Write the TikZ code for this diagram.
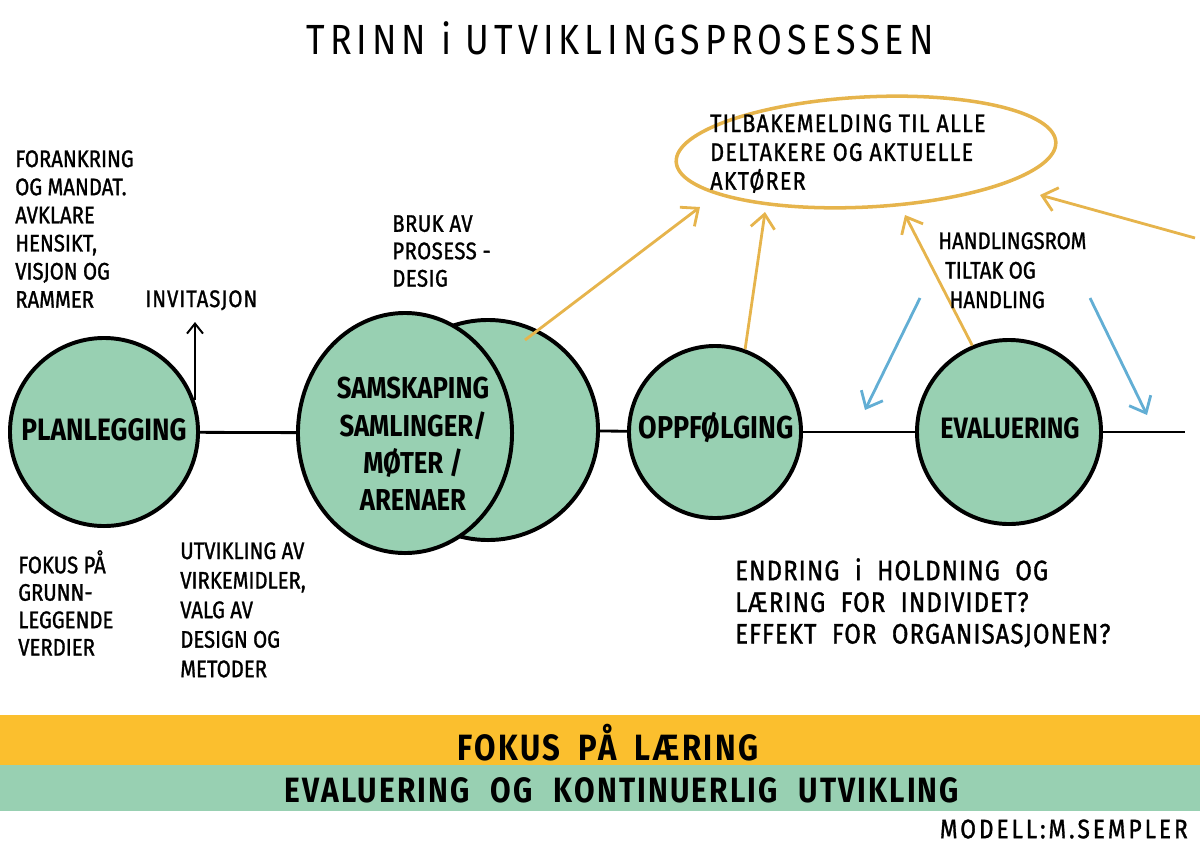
\documentclass[tikz,border=0pt]{standalone}
\usepackage{fontspec}
\setmainfont{Fira Sans}[FakeStretch=0.85]
\newfontfamily\marker{Fira Sans}[FakeStretch=0.85, FakeBold=1.2]
\newcommand\widewords[1]{\spaceskip=#1\relax}
\usetikzlibrary{arrows.meta,shapes.geometric}
\definecolor{mint}{RGB}{152,208,178}
\definecolor{gold}{RGB}{230,180,76}
\definecolor{bandgold}{RGB}{251,191,46}
\definecolor{sky}{RGB}{98,174,212}
\tikzset{
  stage/.style={circle, draw=black, line width=2.8pt, fill=mint, inner sep=0},
  stagetext/.style={font=\bfseries\fontsize{21}{24}\selectfont, align=center},
  txt/.style={inner sep=0, align=left, anchor=north west, font=\marker\fontsize{17}{20}\selectfont},
  axis/.style={line width=2pt, black},
  feedback/.style={gold, line width=2pt, -{Straight Barb[length=3.5mm,width=6mm,line width=2pt]}},
  action/.style={sky, line width=2pt, -{Straight Barb[length=3.5mm,width=6mm,line width=2pt]}},
  invite/.style={black, line width=1.4pt, -{Straight Barb[length=2.5mm,width=4mm,line width=1.4pt]}},
}
\begin{document}
\begin{tikzpicture}[x=0.025cm,y=-0.025cm]
\useasboundingbox (0,0) rectangle (1200,848);
% title
\node[font=\fontsize{30}{36}\selectfont\addfontfeature{LetterSpace=12}] (title) at (620,38) {TRINN i UTVIKLINGSPROSESSEN};
% stages
\node[stage, minimum size=4.7cm] (plan) at (104,432) {};
\node[stagetext, font=\bfseries\fontsize{22}{24}\selectfont] (planl) at (104,430) {PLANLEGGING};
\node[stage, minimum size=5.5cm] (back) at (488,430) {};
\node[stage, ellipse, minimum width=5.35cm, minimum height=6cm] (front) at (405,433) {};
\node[stagetext, font=\bfseries\fontsize{21.5}{26.5}\selectfont] (frontl) at (413,444) {SAMSKAPING\\SAMLINGER/\\MØTER /\\ARENAER};
\node[stage, minimum size=4.3cm] (opp) at (715,432) {};
\node[stagetext, font=\bfseries\fontsize{22.5}{24}\selectfont] (oppl) at (716,428) {OPPFØLGING};
\node[stage, minimum size=4.6cm] (eval) at (1009,432) {};
\node[stagetext] (evall) at (1010,428) {EVALUERING};
\coordinate (axend) at (1185,432);
\draw[axis] (plan) -- (front);
\draw[axis] (back) -- (opp);
\draw[axis] (opp) -- (eval);
\draw[axis] (eval) -- (axend);
% invitation
\coordinate (invfoot) at (195,400);
\coordinate (invtop) at (195,322);
\draw[invite] (invfoot) -- (invtop);
\node[txt, font=\marker\fontsize{17}{20}\selectfont\addfontfeature{LetterSpace=4}] (inv) at (145,290) {INVITASJON};
% feedback ellipse
\node[ellipse, draw=gold, line width=2.5pt, minimum width=9.5cm, minimum height=2.75cm, rotate=3] (fb) at (866,152) {};
\node[txt, font=\marker\fontsize{18}{20.5}\selectfont\addfontfeature{LetterSpace=5}] (fbl) at (710,114) {TILBAKEMELDING TIL ALLE\\DELTAKERE OG AKTUELLE\\AKTØRER};
\coordinate (f1) at (700,207);
\coordinate (f2) at (765,212);
\coordinate (f3) at (905,215);
\coordinate (f4) at (1040,195);
\coordinate (s1) at (525,340);
\coordinate (s4) at (1195,238);
\draw[feedback] (s1) -- (f1);
\draw[feedback] (opp.70) -- (f2);
\draw[feedback] (eval.113) -- (f3);
\draw[feedback] (s4) -- (f4);
% action arrows
\coordinate (a1s) at (920,298);
\coordinate (a1e) at (865,410);
\coordinate (a2s) at (1090,298);
\coordinate (a2e) at (1147,415);
\draw[action] (a1s) -- (a1e);
\draw[action] (a2s) -- (a2e);
% texts
\node[txt] (t1) at (15,150) {FORANKRING\\OG MANDAT.\\AVKLARE\\HENSIKT,\\VISJON OG\\RAMMER};
\node[txt, font=\marker\fontsize{17}{19.5}\selectfont\addfontfeature{LetterSpace=2}] (t2) at (392,215) {BRUK AV\\PROSESS -\\DESIG};
\node[txt, font=\marker\fontsize{17}{21}\selectfont] (t3) at (938,232) {HANDLINGSROM\\\hspace{5pt}TILTAK OG\\\hspace{8pt}HANDLING};
\node[txt, font=\marker\fontsize{17}{19.5}\selectfont] (t4) at (18,550) {FOKUS PÅ\\GRUNN-\\LEGGENDE\\VERDIER};
\node[txt, font=\marker\fontsize{17}{21}\selectfont] (t5) at (180,542) {UTVIKLING AV\\VIRKEMIDLER,\\VALG AV\\DESIGN OG\\METODER};
\node[txt, font=\marker\fontsize{20}{22.5}\selectfont\addfontfeature{LetterSpace=4}\widewords{11pt}] (t6) at (735,558) {ENDRING i HOLDNING OG\\LÆRING FOR INDIVIDET?\\EFFEKT FOR ORGANISASJONEN?};
% bands
\fill[bandgold] (0,715) rectangle (1200,765);
\fill[mint] (0,765) rectangle (1200,811);
\node[font=\bfseries\fontsize{26}{28}\selectfont\addfontfeature{LetterSpace=7}\widewords{13pt}] (b1) at (608,743) {FOKUS PÅ LÆRING};
\node[font=\bfseries\fontsize{25}{28}\selectfont\addfontfeature{LetterSpace=6}\widewords{15pt}] (b2) at (622,790) {EVALUERING OG KONTINUERLIG UTVIKLING};
\node[anchor=east, inner sep=0, font=\marker\fontsize{19}{22}\selectfont\addfontfeature{LetterSpace=11}] (credit) at (1188,829) {MODELL:M.SEMPLER};
\end{tikzpicture}
\end{document}
